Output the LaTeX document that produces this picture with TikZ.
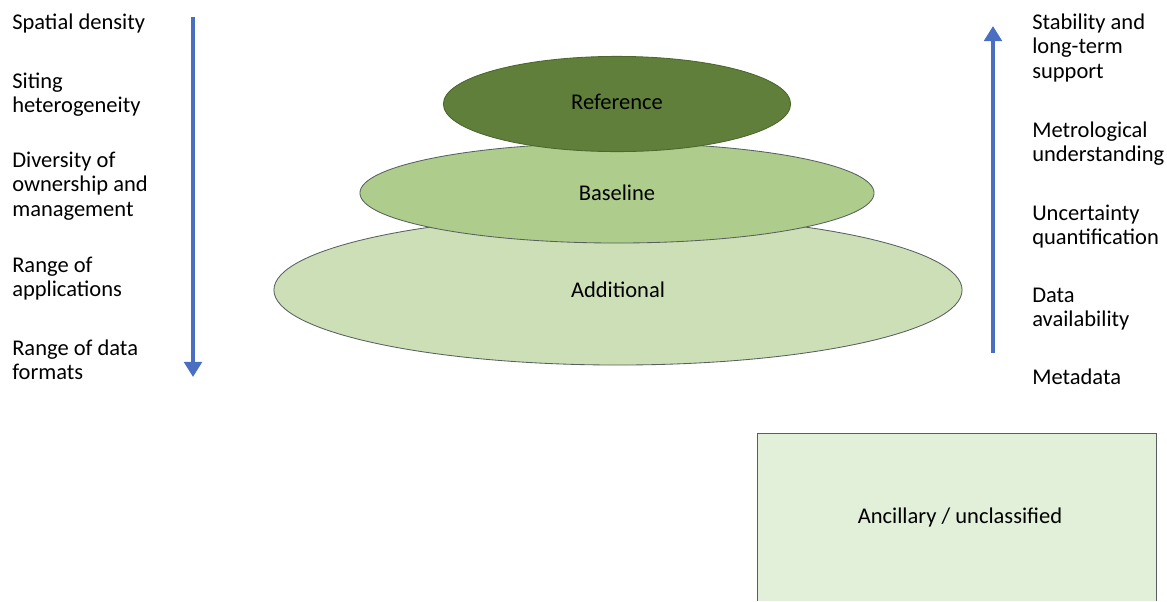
\documentclass[tikz,border=0pt]{standalone}
\usepackage{fontspec}
\setmainfont{Carlito}
\usetikzlibrary{shapes.geometric,arrows.meta}
\definecolor{RefGreen}{HTML}{5F7F3A}
\definecolor{BaseGreen}{HTML}{AECD8C}
\definecolor{AddGreen}{HTML}{CCDFB6}
\definecolor{AncGreen}{HTML}{E2EFD9}
\definecolor{EdgeGrey}{HTML}{56605F}
\definecolor{ArrowBlue}{HTML}{4A6EC2}

\begin{document}
\begin{tikzpicture}[x=0.025cm, y=-0.025cm, font=\fontsize{16}{17.4}\selectfont,
    layer/.style={ellipse, draw=EdgeGrey, line width=0.6pt, inner sep=0pt},
    side/.style={anchor=base west, align=left, inner sep=0pt},
    trend/.style={ArrowBlue, line width=3.3pt, -{Triangle[width=0.44cm, length=0.38cm]}}]
        \useasboundingbox (0, 0) rectangle (1167, 601);

        \node[layer, fill=AddGreen, minimum width=17.2cm, minimum height=3.75cm](Additional) at (618, 290) {Additional};
        \node[layer, fill=BaseGreen, minimum width=12.85cm, minimum height=2.5cm](Baseline) at (617, 193) {Baseline};
        \node[layer, fill=RefGreen, draw=RefGreen!80!black, minimum width=8.68cm, minimum height=2.38cm](Reference) at (617, 104) {\raisebox{3pt}{Reference}};

        % base of each block = its last line
        \node[side](SpatialDensity) at (12, 29) {Spatial density};
        \node[side](Siting) at (12, 112.5) {Siting\\heterogeneity};
        \node[side](Diversity) at (12, 216) {Diversity of\\ownership and\\management};
        \node[side](RangeApps) at (12, 296.5) {Range of\\applications};
        \node[side](RangeFormats) at (12, 379.5) {Range of data\\formats};

        \coordinate(DownTop) at (193, 17);
        \coordinate(DownEnd) at (193, 377);
        \draw[trend] (DownTop) -- (DownEnd);

        \node[side](Stability) at (1032, 78) {Stability and\\long-term\\support};
        \node[side](Metrological) at (1032, 161.5) {Metrological\\understanding};
        \node[side](Uncertainty) at (1032, 244.5) {Uncertainty\\quantification};
        \node[side](DataAvail) at (1032, 326.5) {Data\\availability};
        \node[side](Metadata) at (1032, 384) {Metadata};

        \coordinate(UpBottom) at (993, 353);
        \coordinate(UpEnd) at (993, 26);
        \draw[trend] (UpBottom) -- (UpEnd);

        \fill[AncGreen] (757, 433) rectangle (1156, 601);
        \draw[EdgeGrey, line width=0.6pt] (757, 601) -- (757, 433) -- (1156, 433) -- (1156, 601);
        \node(Ancillary) at (960, 517) {Ancillary / unclassified};
    \end{tikzpicture}
\end{document}
